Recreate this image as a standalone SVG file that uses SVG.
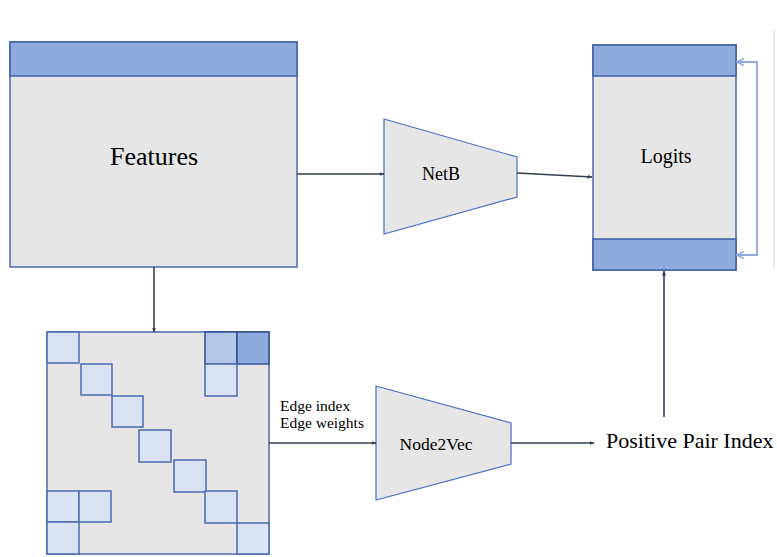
<svg xmlns="http://www.w3.org/2000/svg" width="777" height="557" viewBox="0 0 777 557">
<style>
.box{fill:#e7e6e6;stroke:#4a6bb0;stroke-width:1.5}
.hdr{fill:#8faadc;stroke:#3f5fa3;stroke-width:1.5}
.trap{fill:#e7e6e6;stroke:#4472c4;stroke-width:1.2}
.cell{fill:#dae3f3;stroke:#4a6bb0;stroke-width:1.5}
.conn{fill:none;stroke:#333f50;stroke-width:1.6}
.fb{fill:none;stroke:#8faadc;stroke-width:1.8}
text{font-family:"Liberation Serif","Times New Roman",serif;fill:#000}
</style>
<defs>
<marker id="ah" viewBox="0 0 10 10" refX="9" refY="5" markerWidth="5" markerHeight="5" orient="auto-start-reverse" markerUnits="userSpaceOnUse">
<path d="M0,1 L10,5 L0,9 Z" fill="#333f50"/>
</marker>
<marker id="ahb" viewBox="0 0 10 10" refX="9" refY="5" markerWidth="9" markerHeight="9" orient="auto-start-reverse" markerUnits="userSpaceOnUse">
<path d="M1,1 L9,5 L1,9" fill="none" stroke="#8faadc" stroke-width="1.8"/>
</marker>
</defs>
<rect width="777" height="557" fill="#fff"/>
<line x1="774" y1="30" x2="774" y2="270" stroke="#d4d4d4" stroke-width="1"/>
<g id="features">
<rect class="box" x="10" y="42" width="287" height="225"/>
<rect class="hdr" x="10" y="42" width="287" height="34"/>
<text x="154" y="165" font-size="26" text-anchor="middle">Features</text>
</g>
<g id="logits">
<rect class="box" x="593" y="45" width="143" height="225"/>
<rect class="hdr" x="593" y="45" width="143" height="31"/>
<rect class="hdr" x="593" y="239" width="143" height="31"/>
<text x="666" y="163" font-size="20" text-anchor="middle">Logits</text>
</g>
<g id="netb">
<polygon class="trap" points="384,119 517,157 517,197 384,234"/>
<text x="441" y="180" font-size="18" text-anchor="middle">NetB</text>
</g>
<g id="node2vec">
<polygon class="trap" points="376,386 511,423 511,464 376,500"/>
<text x="436" y="450" font-size="17.5" text-anchor="middle">Node2Vec</text>
</g>
<g id="matrix">
<rect class="box" x="47" y="332" width="222" height="222"/>
<rect class="cell" x="47" y="332" width="32" height="31"/>
<rect class="cell" x="205" y="332" width="32" height="32" style="fill:#b4c7e7;stroke:#2f4f8f"/>
<rect class="cell" x="237" y="332" width="32" height="32" style="fill:#8faadc;stroke:#2f4f8f"/>
<rect class="cell" x="81" y="364" width="31" height="31"/>
<rect class="cell" x="205" y="364" width="32" height="32"/>
<rect class="cell" x="112" y="396" width="31" height="31"/>
<rect class="cell" x="139" y="430" width="32" height="32"/>
<rect class="cell" x="174" y="460" width="32" height="32"/>
<rect class="cell" x="47" y="491" width="32" height="31"/>
<rect class="cell" x="79" y="491" width="32" height="31"/>
<rect class="cell" x="205" y="491" width="32" height="32"/>
<rect class="cell" x="47" y="522" width="32" height="32"/>
<rect class="cell" x="237" y="523" width="32" height="31"/>
</g>
<g id="positive-pair-index">
<text x="606" y="448" font-size="22">Positive Pair Index</text>
</g>
<g id="connectors">
<line class="conn" x1="297" y1="174" x2="384" y2="174" marker-end="url(#ah)"/>
<line class="conn" x1="517" y1="173" x2="592" y2="177" marker-end="url(#ah)"/>
<line class="conn" x1="154" y1="267" x2="154" y2="332" marker-end="url(#ah)"/>
<line class="conn" x1="269" y1="443" x2="376" y2="443" marker-end="url(#ah)"/>
<line class="conn" x1="511" y1="443" x2="594" y2="443" marker-end="url(#ah)"/>
<line class="conn" x1="664" y1="417" x2="664" y2="271" marker-end="url(#ah)"/>
<polyline class="fb" points="737,255 757,255 757,62 737,62" marker-start="url(#ahb)" marker-end="url(#ahb)"/>
<text x="280" y="411" font-size="15.5">Edge index</text>
<text x="280" y="428" font-size="15.5">Edge weights</text>
</g>
</svg>
